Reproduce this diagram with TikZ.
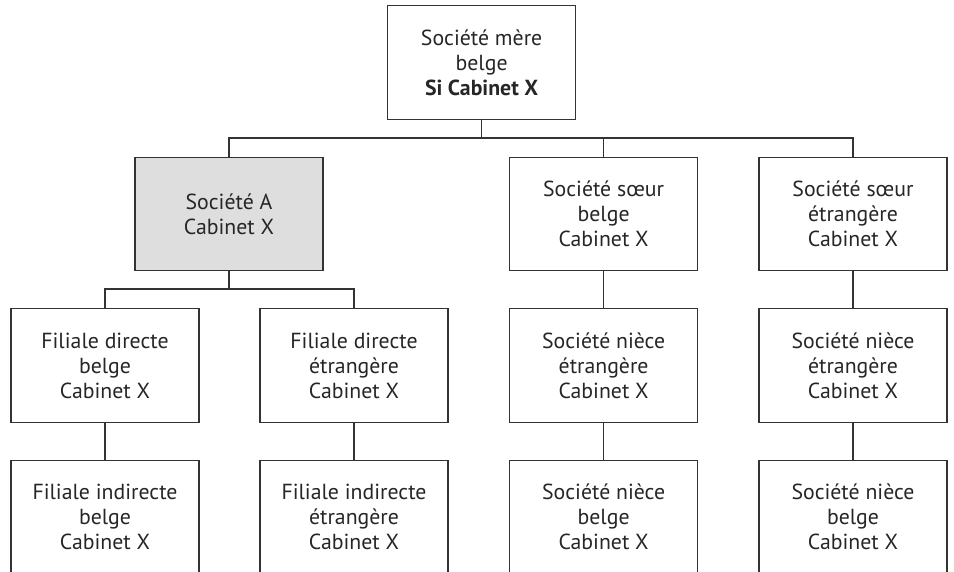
\documentclass[tikz,border=0pt]{standalone}
\usepackage{fontspec}
\setmainfont{PT Sans}
\usepackage{xcolor}

\definecolor{boxline}{HTML}{333333}
\definecolor{boxfill}{HTML}{DEDEDE}

\tikzset{
  entity/.style={draw=boxline, line width=0.9pt, rectangle, minimum width=4.7cm,
    minimum height=2.84cm, inner sep=0pt, align=center,
    font=\fontsize{15.5}{17.8}\selectfont, text=black!85},
  link/.style={draw=boxline, line width=0.9pt}
}

\begin{document}
\begin{tikzpicture}

% Frame
\useasboundingbox (0,0) rectangle (23.85,-14.275);
\clip (0,0) rectangle (23.85,-14.275);

% Parent company
\node[entity] (mere) at (12.04,-1.5625) {Société mère\\belge\\\textbf{Si Cabinet X}};

% Second row
\node[entity, fill=boxfill] (socA) at (5.725,-5.35) {Société A\\Cabinet X};
\node[entity] (soeurBE) at (15.09,-5.35) {Société sœur\\belge\\Cabinet X};
\node[entity] (soeurET) at (21.325,-5.35) {Société sœur\\étrangère\\Cabinet X};

% Third row
\node[entity] (filDirBE) at (2.625,-9.14) {Filiale directe\\belge\\Cabinet X};
\node[entity] (filDirET) at (8.85,-9.14) {Filiale directe\\étrangère\\Cabinet X};
\node[entity] (nieceET1) at (15.09,-9.14) {Société nièce\\étrangère\\Cabinet X};
\node[entity] (nieceET2) at (21.325,-9.14) {Société nièce\\étrangère\\Cabinet X};

% Fourth row (cut at the bottom)
\node[entity] (filIndBE) at (2.625,-12.93) {Filiale indirecte\\belge\\Cabinet X};
\node[entity] (filIndET) at (8.85,-12.93) {Filiale indirecte\\étrangère\\Cabinet X};
\node[entity] (nieceBE1) at (15.09,-12.93) {Société nièce\\belge\\Cabinet X};
\node[entity] (nieceBE2) at (21.325,-12.93) {Société nièce\\belge\\Cabinet X};

% Bus lines
\coordinate (busTop) at (0,-3.45);
\coordinate (busA) at (0,-7.225);

\draw[link] (mere.south) -- (mere.south |- busTop);
\draw[link] (socA.north) -- (socA.north |- busTop) -- (soeurET.north |- busTop) -- (soeurET.north);
\draw[link] (soeurBE.north) -- (soeurBE.north |- busTop);

\draw[link] (socA.south) -- (socA.south |- busA);
\draw[link] (filDirBE.north) -- (filDirBE.north |- busA) -- (filDirET.north |- busA) -- (filDirET.north);

% Straight links
\draw[link] (soeurBE.south) -- (nieceET1.north);
\draw[link] (soeurET.south) -- (nieceET2.north);
\draw[link] (filDirBE.south) -- (filIndBE.north);
\draw[link] (filDirET.south) -- (filIndET.north);
\draw[link] (nieceET1.south) -- (nieceBE1.north);
\draw[link] (nieceET2.south) -- (nieceBE2.north);

\end{tikzpicture}
\end{document}
